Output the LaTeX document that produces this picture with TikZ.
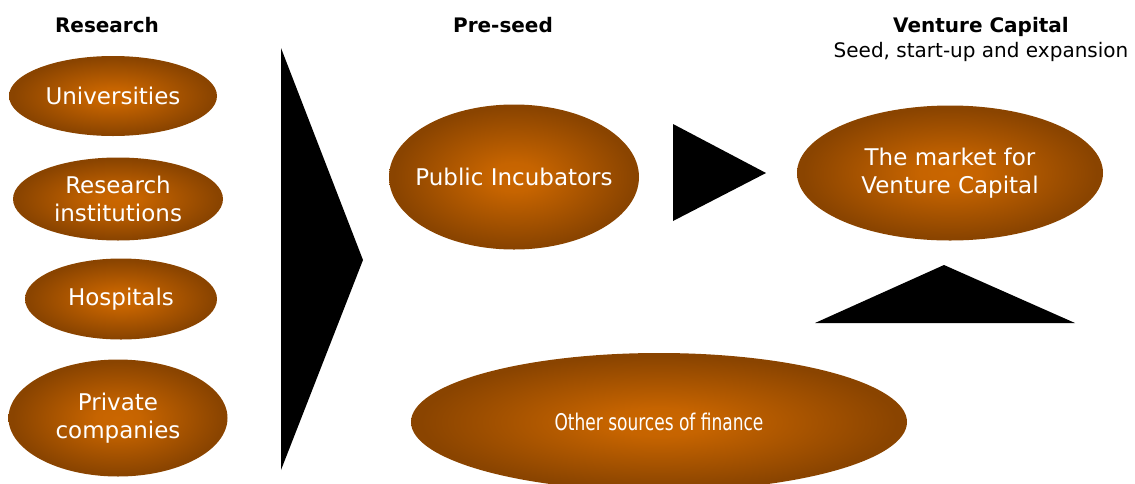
\documentclass[tikz,border=0pt]{standalone}
\usepackage{fontspec}
\setmainfont{DejaVu Sans}
\usepackage{tikz}
\usetikzlibrary{shapes.geometric, positioning}
\usepackage{xcolor}
\definecolor{glowcore}{RGB}{202,102,0}
\definecolor{glowrim}{RGB}{138,68,0}
\pgfdeclareradialshading{glow}{\pgfpoint{0bp}{0bp}}{%
	color(0bp)=(glowcore); color(5bp)=(glowcore!94!glowrim);
	color(24bp)=(glowrim); color(50bp)=(glowrim)}
\tikzset{%
	every source/.style={
		ellipse,
		shading=glow,
		text=white,
		align=center,
		inner sep=0pt,
		font=\fontsize{23}{28}\selectfont
	},
	heading/.style={
		align=center,
		font=\fontsize{20}{25}\selectfont
	},
	flow arrow/.style={
		fill=black
	},
}

\begin{document}
\begin{tikzpicture}[x=1pt, y=-1pt]
	\useasboundingbox (0,0) rectangle (1135,483);

	% stage titles
	\node[heading] (research) at (107,25) {\bfseries Research};
	\node[heading] (preseed) at (503,25) {\bfseries Pre-seed};
	\node[heading] (vc) at (981,39) {\bfseries Venture Capital\\Seed, start-up and expansion};

	% research side
	\node[every source, minimum width=208, minimum height=80] (univ) at (113,96) {Universities};
	\node[every source, minimum width=210, minimum height=83] (inst) at (118,199) {Research\\institutions};
	\node[every source, minimum width=192, minimum height=81] (hosp) at (121,299) {Hospitals};
	\node[every source, minimum width=219, minimum height=117] (priv) at (118,418) {Private\\companies};

	% pre-seed and venture capital
	\node[every source, inner xsep=-20pt, minimum width=250, minimum height=145] (incub) at (514,177) {Public Incubators};
	\node[every source, minimum width=306, minimum height=135] (market) at (950,173) {The market for\\Venture Capital};
	\node[every source, minimum width=496, minimum height=138] (other) at (659,422)
		{\scalebox{0.74}[1]{Other sources of finance}};

	% arrow heads
	\fill[flow arrow] (281,48) -- (363,260) -- (281,470) -- cycle;
	\fill[flow arrow] (673,124) -- (766,173) -- (673,221) -- cycle;
	\fill[flow arrow] (815,323) -- (944,265) -- (1075,323) -- cycle;

\end{tikzpicture}
\end{document}
